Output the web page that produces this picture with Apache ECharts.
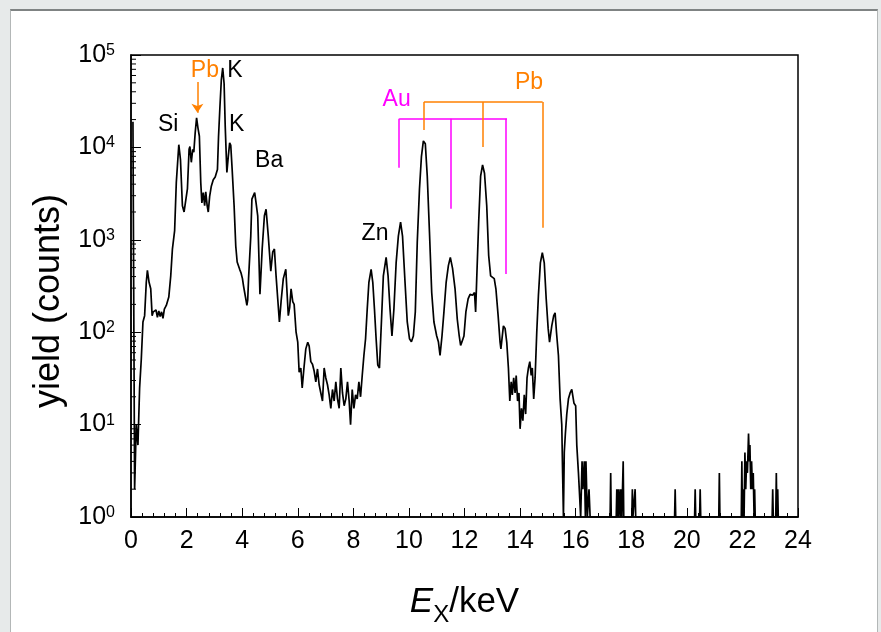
<!DOCTYPE html>
<html><head><meta charset="utf-8">
<script src="https://cdn.jsdelivr.net/npm/echarts@6/dist/echarts.min.js"></script>
<style>
html,body{margin:0;padding:0;width:881px;height:632px;overflow:hidden;background:#e7eaea;}
#panel{position:absolute;left:10px;top:9px;width:866px;height:640px;background:#fff;border:1px solid #b3b7b7;border-top:2px solid #7f8383;}
#chart{position:absolute;left:0;top:0;width:881px;height:632px;}
</style></head><body>
<div id="panel"></div><div id="chart"></div>
<script>
// ---- data ----
const E_KEV = [0.07,0.13,0.19,0.25,0.31,0.37,0.43,0.49,0.55,0.59,0.65,0.71,0.76,0.80,0.85,0.90,0.95,1.00,1.05,1.10,1.15,1.20,1.27,1.36,1.43,1.49,1.57,1.63,1.72,1.78,1.85,1.91,1.97,2.03,2.09,2.12,2.17,2.22,2.26,2.31,2.36,2.41,2.46,2.51,2.55,2.60,2.65,2.69,2.74,2.78,2.83,2.89,2.96,3.03,3.11,3.15,3.20,3.25,3.30,3.35,3.39,3.45,3.50,3.55,3.59,3.64,3.71,3.77,3.82,3.91,3.96,4.01,4.05,4.09,4.13,4.17,4.20,4.23,4.31,4.35,4.45,4.50,4.56,4.64,4.72,4.80,4.86,4.94,5.03,5.10,5.16,5.22,5.28,5.34,5.40,5.48,5.57,5.62,5.66,5.71,5.76,5.82,5.87,5.94,6.00,6.05,6.11,6.16,6.22,6.29,6.36,6.41,6.47,6.53,6.59,6.65,6.71,6.77,6.83,6.89,6.95,7.01,7.07,7.13,7.19,7.25,7.31,7.37,7.43,7.49,7.55,7.61,7.67,7.73,7.79,7.85,7.90,7.96,8.02,8.08,8.14,8.20,8.26,8.32,8.38,8.44,8.50,8.56,8.64,8.70,8.76,8.82,8.88,8.94,9.02,9.08,9.18,9.25,9.32,9.39,9.46,9.54,9.62,9.70,9.77,9.86,9.94,10.02,10.09,10.16,10.23,10.30,10.38,10.45,10.52,10.59,10.66,10.74,10.82,10.90,11.00,11.06,11.12,11.19,11.26,11.34,11.42,11.49,11.57,11.66,11.74,11.81,11.86,11.91,11.98,12.05,12.13,12.20,12.29,12.36,12.40,12.44,12.51,12.58,12.65,12.72,12.80,12.87,12.94,13.01,13.07,13.13,13.21,13.28,13.31,13.40,13.46,13.52,13.58,13.63,13.68,13.72,13.77,13.82,13.86,13.91,13.96,14.00,14.05,14.10,14.15,14.20,14.25,14.30,14.35,14.40,14.44,14.49,14.54,14.60,14.66,14.73,14.80,14.87,14.94,15.01,15.06,15.14,15.21,15.26,15.31,15.38,15.44,15.50,15.53,15.56,15.59,15.63,15.68,15.74,15.80,15.86,15.89,15.94,16.00,16.04,16.10,16.13,16.18,16.23,16.26,16.31,16.35,16.37,16.42,16.48,16.52,17.24,17.26,17.28,17.46,17.48,17.50,17.53,17.55,17.58,17.60,17.62,17.64,17.66,17.69,17.71,17.73,18.02,18.04,18.06,18.12,18.14,18.16,19.56,19.58,19.60,20.28,20.30,20.32,20.46,20.48,20.50,21.15,21.17,21.19,21.96,21.98,22.00,22.03,22.06,22.09,22.12,22.15,22.18,22.22,22.25,22.27,22.30,22.33,22.36,22.39,22.42,22.44,22.46,23.07,23.09,23.11,23.20,23.22,23.24,23.27,23.29,24.00];
const COUNTS = [19000,2,10,6,25,51,129,151,347,468,347,295,151,166,158,174,145,170,148,166,141,178,195,240,407,794,1259,4169,10700,7400,2340,2000,2000,3550,9550,10200,6900,9550,8900,14450,20900,16200,13200,4170,2510,3240,2340,3300,2340,2000,2950,3800,4470,4790,5750,13200,27500,53700,72400,49000,17000,5370,7940,11200,10500,5750,2340,851,575,479,437,380,316,269,229,195,224,380,1096,2750,3240,2510,1820,257,794,1820,2140,1096,457,741,794,407,229,129,214,380,479,251,151,186,295,214,200,100,78,37,41,25,40,66,78,71,48,45,38,29,40,27,22,18,41,32,27,21,15,24,18,29,19,15,41,22,16,19,29,18,10,24,15,21,19,29,20,34,56,85,178,347,479,347,178,85,44,41,151,407,646,407,178,91,178,562,1096,1549,1096,347,129,85,79,91,166,933,3550,7940,11750,10960,4900,1200,269,129,91,79,56,91,166,347,525,646,490,295,138,91,72,79,91,166,229,257,251,269,166,380,1549,4900,6460,5250,2340,676,407,427,380,295,151,78,66,117,110,78,41,18,29,21,32,22,34,18,22,9,15,11,21,13,32,41,48,34,41,19,32,100,251,562,724,562,229,110,78,117,151,162,100,56,19,10,3,0,5,8,13,19,22,24,25,17,16,6,3,2,0,4,2,4,0,4,0,2,0,0,3,0,0,2,0,2,0,0,2,0,2,0,0,4,0,0,2,0,0,2,0,0,2,0,0,2,0,0,2,0,0,3,0,0,4,0,2,1,5,2,4,3,8,4,6,2,4,2,3,0,2,0,0,2,0,0,3,0,2,0,0];

// axis ticks
const X_TICKS = [0,2,4,6,8,10,12,14,16,18,20,22,24];
const Y_DECADES = [1,10,100,1000,10000,100000];
const Y_MINOR_MULT = [2,3,4,5,6,7,8,9];

// annotation lines (keV, counts)
const AU_KEV = [9.65, 11.50, 13.49];
const AU_END = [6030, 2170, 426];
const AU_BAR = 20400, AU_BAR_END_KEV = 13.53;
const PB_KEV = [10.54, 12.64, 14.81];
const PB_END = [15400, 10100, 1350];
const PB_BAR = 31000;
const PB_M_KEV = 2.39, PB_M_FROM = 51000, PB_M_TO = 23700;

// element labels [text, keV, counts, color]
const LABELS = [
  ['Si', 1.34, 17800, '#000'],
  ['Pb', 2.66, 68000, '#ff8000'],
  ['K', 3.74, 68000, '#000'],
  ['K', 3.80, 17800, '#000'],
  ['Ba', 4.97, 7160, '#000'],
  ['Zn', 8.78, 1170, '#000'],
  ['Au', 9.56, 33000, '#ff00ff'],
  ['Pb', 14.32, 50400, '#ff8000']
];

const ORANGE = '#ff8000', MAGENTA = '#ff00ff';
const SANS = "'Liberation Sans',Arial,sans-serif";

const spectrum = E_KEV.map((e, i) => [e, Math.max(COUNTS[i], 1)]); // zero counts sit on the 10^0 floor

const minorY = [];
Y_DECADES.slice(0, -1).forEach(d => Y_MINOR_MULT.forEach(m => minorY.push([0, d * m])));

function seg(x1, y1, x2, y2) { return [{coord: [x1, y1]}, {coord: [x2, y2]}]; }
const auLines = [seg(AU_KEV[0], AU_BAR, AU_BAR_END_KEV, AU_BAR)].concat(AU_KEV.map((k, i) => seg(k, AU_BAR, k, AU_END[i])));
const pbLines = [seg(PB_KEV[0], PB_BAR, PB_KEV[2], PB_BAR)].concat(PB_KEV.map((k, i) => seg(k, PB_BAR, k, PB_END[i])));

const chart = echarts.init(document.getElementById('chart'), null, {renderer: 'canvas'});
chart.setOption({
  animation: false,
  backgroundColor: 'transparent',
  grid: {left: 131, right: 83, top: 55, bottom: 111, show: true, borderColor: '#000', borderWidth: 1.5, backgroundColor: 'transparent'},
  xAxis: {
    type: 'value', min: X_TICKS[0], max: X_TICKS[X_TICKS.length - 1], interval: 2,
    axisLine: {show: true, onZero: false, lineStyle: {color: '#000', width: 1.5}},
    axisTick: {show: true, inside: true, length: 9, lineStyle: {color: '#000', width: 1}},
    minorTick: {show: true, splitNumber: 5, length: 4, lineStyle: {color: '#000', width: 1}},
    splitLine: {show: false},
    axisLabel: {color: '#000', fontSize: 25, fontFamily: SANS, margin: 12},
    name: '{i|E}{sub|X}{r|/keV}', nameLocation: 'middle', nameGap: 60,
    nameTextStyle: {color: '#000', rich: {
      i: {fontSize: 35, fontStyle: 'italic', fontFamily: SANS, color: '#000'},
      sub: {fontSize: 24, fontFamily: SANS, color: '#000', padding: [26, 0, 0, 0]},
      r: {fontSize: 35, fontFamily: SANS, color: '#000'}
    }}
  },
  yAxis: {
    type: 'log', logBase: 10, min: Y_DECADES[0], max: Y_DECADES[Y_DECADES.length - 1],
    axisLine: {show: true, lineStyle: {color: '#000', width: 1.5}},
    axisTick: {show: true, inside: true, length: 10, lineStyle: {color: '#000', width: 1}},
    splitLine: {show: false},
    axisLabel: {color: '#000', margin: 16, formatter: v => '{b|10}{s|' + Math.round(Math.log10(v)) + '}',
      rich: {b: {fontSize: 25, fontFamily: SANS, color: '#000'}, s: {fontSize: 16, fontFamily: SANS, color: '#000', verticalAlign: 'top'}}},
    name: 'yield (counts)', nameLocation: 'middle', nameGap: 62, nameRotate: 90,
    nameTextStyle: {color: '#000', fontSize: 36, fontFamily: SANS, padding: [0, 30, 0, 0]}
  },
  series: [
    {type: 'line', data: spectrum, showSymbol: false, symbol: 'none', lineStyle: {color: '#000', width: 1.7}, z: 3},
    {type: 'custom', data: minorY, silent: true, z: 4,
      renderItem: (params, api) => {
        const p = api.coord([api.value(0), api.value(1)]);
        return {type: 'line', shape: {x1: p[0], y1: p[1], x2: p[0] + 5, y2: p[1]}, style: {stroke: '#000', lineWidth: 1}};
      }},
    {type: 'line', data: [], symbol: 'none',
      markLine: {silent: true, symbol: 'none', label: {show: false}, lineStyle: {color: MAGENTA, width: 1.5, type: 'solid', opacity: 1}, data: auLines}},
    {type: 'line', data: [], symbol: 'none',
      markLine: {silent: true, symbol: 'none', label: {show: false}, lineStyle: {color: ORANGE, width: 1.5, type: 'solid', opacity: 1}, data: pbLines}},
    {type: 'line', data: [], symbol: 'none',
      markLine: {silent: true, symbol: ['none', 'arrow'], symbolSize: 9, label: {show: false}, lineStyle: {color: ORANGE, width: 1.5, type: 'solid', opacity: 1},
        data: [seg(PB_M_KEV, PB_M_FROM, PB_M_KEV, PB_M_TO)]}},
    {type: 'scatter', symbolSize: 0, silent: true, z: 5, itemStyle: {opacity: 1},
      data: LABELS.map(l => ({value: [l[1], l[2]], label: {formatter: l[0], color: l[3], opacity: 1}})),
      label: {show: true, position: 'inside', fontSize: 23, fontFamily: SANS, opacity: 1, textBorderWidth: 0, textBorderColor: 'transparent', textShadowBlur: 0}}
  ]
});
</script>
</body></html>
